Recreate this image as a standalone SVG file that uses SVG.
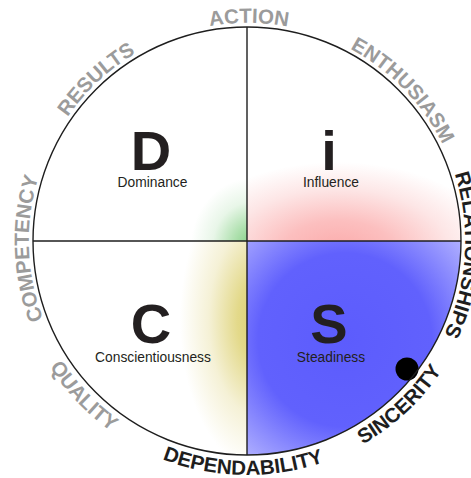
<svg xmlns="http://www.w3.org/2000/svg" xmlns:xlink="http://www.w3.org/1999/xlink" width="471" height="478" viewBox="0 0 471 478">
  <style>
    .big { font-family: "Liberation Sans", Arial, sans-serif; font-weight: bold; font-size: 56px; fill: #231f20; text-anchor: middle; }
    .sub { font-family: "Liberation Sans", Arial, sans-serif; font-size: 13.8px; fill: #231f20; text-anchor: middle; }
    .arc { font-family: "Liberation Sans", Arial, sans-serif; font-weight: bold; font-size: 20.5px; }
    .gray { fill: #9b9b9b; }
    .dark { fill: #1e1e1e; }
    .axis { stroke: #1e1e1e; stroke-width: 1.4; fill: none; }
  </style>
  <defs>
    <clipPath id="circ"><circle cx="247" cy="241" r="214"/></clipPath>
    <path id="topArc" d="M42.1,166.4 A218,218 0 0 1 451.9,166.4"/>
    <path id="botArc" d="M27.1,321 A234,234 0 0 0 466.9,321"/>
    <radialGradient id="gD" gradientUnits="userSpaceOnUse" cx="0" cy="0" r="100" gradientTransform="translate(253 246) scale(0.62 0.68)">
      <stop offset="0" stop-color="#7fcd80"/>
      <stop offset="0.3" stop-color="#ade0ad"/>
      <stop offset="0.65" stop-color="#e8f6e8"/>
      <stop offset="1" stop-color="#ffffff"/>
    </radialGradient>
    <radialGradient id="gI" gradientUnits="userSpaceOnUse" cx="0" cy="0" r="100" gradientTransform="translate(338 252) scale(1.6 0.9)">
      <stop offset="0" stop-color="#fbaaaa"/>
      <stop offset="0.35" stop-color="#fcbfbf"/>
      <stop offset="0.7" stop-color="#fde6e6"/>
      <stop offset="1" stop-color="#ffffff"/>
    </radialGradient>
    <radialGradient id="gC" gradientUnits="userSpaceOnUse" cx="0" cy="0" r="100" gradientTransform="translate(262 320) scale(0.82 1.5)">
      <stop offset="0" stop-color="#dacd6a"/>
      <stop offset="0.3" stop-color="#e3d98a"/>
      <stop offset="0.65" stop-color="#f5f1d6"/>
      <stop offset="1" stop-color="#ffffff"/>
    </radialGradient>
    <radialGradient id="gS" gradientUnits="userSpaceOnUse" cx="345" cy="340" r="158">
      <stop offset="0" stop-color="#5c5cfd"/>
      <stop offset="0.55" stop-color="#6161fd"/>
      <stop offset="1" stop-color="#b6b6ff"/>
    </radialGradient>
  </defs>

  <rect x="0" y="0" width="471" height="478" fill="#ffffff"/>

  <g id="quadrant-D">
    <rect x="33" y="27" width="214" height="214" fill="url(#gD)" clip-path="url(#circ)"/>
    <text class="big" x="151" y="170">D</text>
    <text class="sub" x="152.5" y="187">Dominance</text>
  </g>
  <g id="quadrant-i">
    <rect x="247" y="27" width="215" height="214" fill="url(#gI)" clip-path="url(#circ)"/>
    <text class="big" x="329" y="170">i</text>
    <text class="sub" x="331" y="187">Influence</text>
  </g>
  <g id="quadrant-C">
    <rect x="33" y="241" width="214" height="214" fill="url(#gC)" clip-path="url(#circ)"/>
    <text class="big" x="151" y="343">C</text>
    <text class="sub" x="153" y="362">Conscientiousness</text>
  </g>
  <g id="quadrant-S">
    <rect x="247" y="241" width="215" height="214" fill="url(#gS)" clip-path="url(#circ)"/>
    <text class="big" x="329" y="343">S</text>
    <text class="sub" x="331" y="362">Steadiness</text>
    <circle cx="407" cy="369" r="11.5" fill="#000000"/>
  </g>

  <g id="connectors">
    <circle class="axis" cx="247" cy="241" r="214"/>
    <line class="axis" x1="247" y1="27" x2="247" y2="455"/>
    <line class="axis" x1="33" y1="241" x2="461" y2="241"/>
  </g>

  <g id="labels">
    <text class="arc gray" transform="rotate(0.5 247 241)"><textPath xlink:href="#topArc" href="#topArc" startOffset="50%" text-anchor="middle">ACTION</textPath></text>
    <text class="arc gray" transform="rotate(-43 247 241)"><textPath xlink:href="#topArc" href="#topArc" startOffset="50%" text-anchor="middle">RESULTS</textPath></text>
    <text class="arc gray" transform="rotate(46 247 241)"><textPath xlink:href="#topArc" href="#topArc" startOffset="50%" text-anchor="middle">ENTHUSIASM</textPath></text>
    <text class="arc dark" transform="rotate(93.7 247 241)"><textPath xlink:href="#topArc" href="#topArc" startOffset="50%" text-anchor="middle">RELATIONSHIPS</textPath></text>
    <text class="arc gray" transform="rotate(-92 247 241)"><textPath xlink:href="#topArc" href="#topArc" startOffset="50%" text-anchor="middle">COMPETENCY</textPath></text>
    <text class="arc dark" transform="rotate(1 247 241)"><textPath xlink:href="#botArc" href="#botArc" startOffset="50%" text-anchor="middle">DEPENDABILITY</textPath></text>
    <text class="arc dark" transform="rotate(-43 247 241)"><textPath xlink:href="#botArc" href="#botArc" startOffset="50%" text-anchor="middle">SINCERITY</textPath></text>
    <text class="arc gray" transform="rotate(46.5 247 241)"><textPath xlink:href="#botArc" href="#botArc" startOffset="50%" text-anchor="middle">QUALITY</textPath></text>
  </g>
</svg>
